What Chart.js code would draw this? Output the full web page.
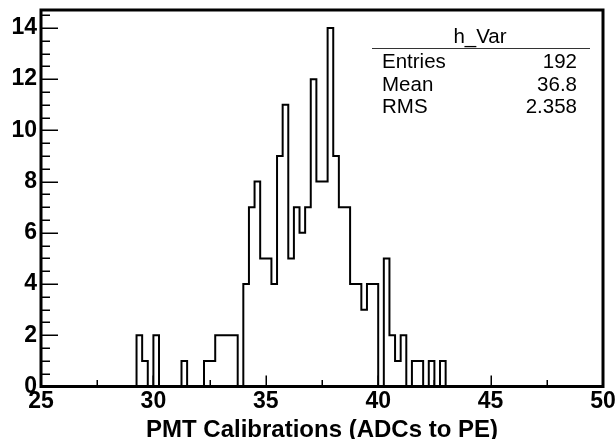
<!DOCTYPE html>
<html>
<head>
<meta charset="utf-8">
<title>h_Var</title>
<script src="https://cdn.jsdelivr.net/npm/chart.js@4/dist/chart.umd.min.js"></script>
<style>
  html, body { margin: 0; padding: 0; background: #fff; }
  #wrap { width: 615px; height: 439px; }
</style>
</head>
<body>
<div id="wrap"><canvas id="chart" width="615" height="439"></canvas></div>
<script>
// histograma h_Var: 100 bins de 0.25 entre 25 y 50
const xMin = 25;
const xMax = 50;
const binWidth = 0.25;
const counts = [
  0, 0, 0, 0, 0, 0, 0, 0, 0, 0, 0, 0, 0, 0, 0, 0, 0, 2, 1, 0,
  2, 0, 0, 0, 0, 1, 0, 0, 0, 1, 1, 2, 2, 2, 2, 0, 4, 7, 8, 5,
  5, 4, 9, 11, 5, 7, 6, 7, 12, 8, 8, 14, 9, 7, 7, 4, 4, 3, 4, 4,
  0, 5, 2, 1, 2, 0, 1, 1, 0, 1, 0, 1, 0, 0, 0, 0, 0, 0, 0, 0,
  0, 0, 0, 0, 0, 0, 0, 0, 0, 0, 0, 0, 0, 0, 0, 0, 0, 0, 0, 0
];
const yMax = 14.7;

// caja de estadisticas
const statsTitle = 'h_Var';
const statsLabels = ['Entries', 'Mean', 'RMS'];
const statsValues = ['192', '36.8', '2.358'];
const xTitle = 'PMT Calibrations (ADCs to PE)';

const FONT = '"Liberation Sans", Arial, Helvetica, sans-serif';

// puntos en el borde inferior de cada bin (linea escalonada)
const points = counts.map((c, i) => ({ x: xMin + i * binWidth, y: c }));
points.push({ x: xMin + counts.length * binWidth, y: 0 });

// sin margenes extra por las etiquetas de los extremos
function fixBox(s, size) {
  if (s.isHorizontal()) s.height = size; else s.width = size;
  s.paddingTop = 0; s.paddingBottom = 0;
  s.paddingLeft = 0; s.paddingRight = 0;
}

// marco, ticks hacia dentro, titulo del eje y estadisticas
const rootFrame = {
  id: 'rootFrame',
  afterDraw(chart) {
    const { ctx, chartArea: a, scales: { x, y } } = chart;
    ctx.save();
    ctx.strokeStyle = '#000';

    // ticks eje y (mayores cada 2, menores cada 0.5)
    ctx.lineWidth = 1.5;
    for (let v = 0; v <= yMax; v += 0.5) {
      const py = Math.round(y.getPixelForValue(v)) + 0.25;
      const len = (v % 2 === 0) ? 17 : 9;
      ctx.beginPath();
      ctx.moveTo(a.left, py);
      ctx.lineTo(a.left + len, py);
      ctx.stroke();
    }
    // ticks eje x (mayores cada 5, menores cada 2.5)
    for (let v = xMin; v <= xMax; v += 2.5) {
      const px = Math.round(x.getPixelForValue(v)) + 0.25;
      const len = ((v - xMin) % 5 === 0) ? 11 : 6.5;
      ctx.beginPath();
      ctx.moveTo(px, a.bottom);
      ctx.lineTo(px, a.bottom - len);
      ctx.stroke();
    }

    // marco grueso
    ctx.lineWidth = 3;
    ctx.strokeRect(a.left, a.top, a.right - a.left, a.bottom - a.top);

    // titulo del eje x
    ctx.fillStyle = '#000';
    ctx.font = 'bold 24px ' + FONT;
    ctx.textAlign = 'center';
    ctx.textBaseline = 'alphabetic';
    ctx.fillText(xTitle, (a.left + a.right) / 2, 437);

    // estadisticas
    ctx.font = '20.5px ' + FONT;
    ctx.fillText(statsTitle, 480, 42.5);
    ctx.lineWidth = 1;
    ctx.strokeStyle = '#333';
    ctx.beginPath();
    ctx.moveTo(372, 48.5);
    ctx.lineTo(590, 48.5);
    ctx.stroke();
    const rows = [68.3, 90.7, 113.3];
    statsLabels.forEach((lab, i) => {
      ctx.textAlign = 'left';
      ctx.fillText(lab, 382, rows[i]);
      ctx.textAlign = 'right';
      ctx.fillText(statsValues[i], 577, rows[i]);
    });
    ctx.restore();
  }
};

new Chart(document.getElementById('chart').getContext('2d'), {
  type: 'line',
  data: {
    datasets: [{
      data: points,
      stepped: 'before',
      borderColor: '#000',
      borderWidth: 2,
      pointRadius: 0,
      fill: false,
      tension: 0
    }]
  },
  options: {
    responsive: false,
    animation: false,
    devicePixelRatio: 1,
    layout: { padding: { top: 10, right: 12, left: 0, bottom: 0 } },
    plugins: { legend: { display: false }, tooltip: { enabled: false } },
    scales: {
      x: {
        type: 'linear',
        min: xMin,
        max: xMax,
        grid: { display: false, drawTicks: false },
        border: { display: false },
        ticks: {
          stepSize: 5,
          padding: 1,
          color: '#000',
          maxRotation: 0,
          font: { family: FONT, size: 23, weight: 'bold' }
        },
        afterFit: s => fixBox(s, 52.5)
      },
      y: {
        min: 0,
        max: yMax,
        grid: { display: false, drawTicks: false },
        border: { display: false },
        ticks: {
          stepSize: 2,
          includeBounds: false,
          padding: 4,
          color: '#000',
          font: { family: FONT, size: 23, weight: 'bold' }
        },
        afterFit: s => fixBox(s, 41)
      }
    }
  },
  plugins: [rootFrame]
});
</script>
</body>
</html>
